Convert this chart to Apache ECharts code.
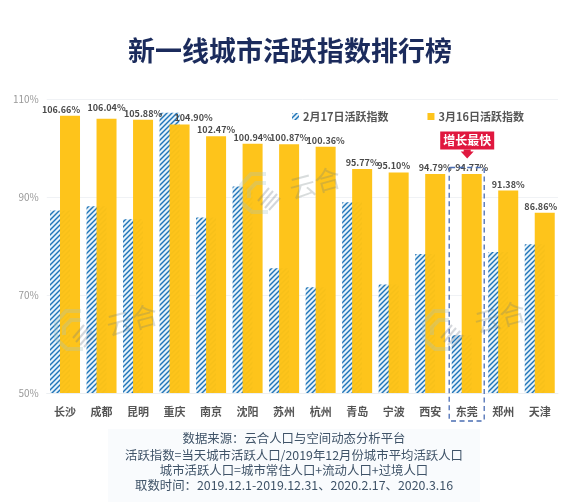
<!DOCTYPE html>
<html><head><meta charset="utf-8">
<style>html,body{margin:0;padding:0;background:#fff}#c{width:580px;height:502px}</style>
<script src="https://cdn.jsdelivr.net/npm/echarts@6/dist/echarts.min.js"></script>
</head><body><div id="c"></div>
<script>
const cities = ['长沙','成都','昆明','重庆','南京','沈阳','苏州','杭州','青岛','宁波','西安','东莞','郑州','天津'];
const feb17 = [87.3,88.2,85.5,107.3,85.9,92.2,75.5,71.6,89.0,72.2,78.4,61.8,78.8,80.4];
const mar16 = [106.66,106.04,105.88,104.90,102.47,100.94,100.87,100.36,95.77,95.10,94.79,94.77,91.38,86.86];
const yTicks = [50,70,90,110];
const seriesNames = ['2月17日活跃指数','3月16日活跃指数'];
const titleText = '新一线城市活跃指数排行榜';
const highlightCity = '东莞';
const highlightText = '增长最快';
const footerLines = ['数据来源：云合人口与空间动态分析平台','活跃指数=当天城市活跃人口/2019年12月份城市平均活跃人口','城市活跃人口=城市常住人口+流动人口+过境人口','取数时间：2019.12.1-2019.12.31、2020.2.17、2020.3.16'];
const labelNudgeX = [-9,0,0,14,0,0,0,0,0,-5,0,0,0,-4];
const labelNudgeY = [0,-5,0,0,0,0,0,0,0,0,0,0,0,0];

const FONT = '"Noto Sans CJK SC","Noto Sans",sans-serif';
function hatch(){
  const c=document.createElement('canvas');c.width=5;c.height=5;
  const g=c.getContext('2d');g.fillStyle='#e6f2fa';g.fillRect(0,0,5,5);
  g.strokeStyle='#1f74b8';g.lineWidth=1.45;
  [[-1,6,6,-1],[-1,1,1,-1],[4,6,6,4]].forEach(p=>{g.beginPath();g.moveTo(p[0],p[1]);g.lineTo(p[2],p[3]);g.stroke();});
  return c;
}
const pattern={image:hatch(),repeat:'repeat'};
const chart=echarts.init(document.getElementById('c'),null,{renderer:'canvas'});
chart.setOption({
  animation:false,backgroundColor:'#fff',
  title:{text:titleText,left:'center',top:32,textStyle:{fontFamily:FONT,fontSize:27,fontWeight:'bold',color:'#1b2b5c'}},
  legend:{left:287,top:106,itemWidth:7,itemHeight:7,itemGap:39,icon:'rect',data:seriesNames,
    textStyle:{fontFamily:FONT,fontSize:11,fontWeight:'bold',color:'#555',padding:[0,0,0,-1]}},
  grid:{left:46.75,right:22,top:99.5,bottom:109,containLabel:false},
  xAxis:{type:'category',data:cities,axisTick:{show:false},axisLine:{lineStyle:{color:'#eceff2'}},
    axisLabel:{interval:0,margin:13,fontFamily:FONT,fontSize:11,fontWeight:'bold',color:'#555'}},
  yAxis:{type:'value',min:50,max:110,interval:20,axisLine:{show:false},axisTick:{show:false},
    splitLine:{lineStyle:{color:'#f0f2f5'}},
    axisLabel:{margin:8,fontFamily:FONT,fontSize:10,color:'#999',
      formatter:v=>yTicks.includes(v)?v+'%':''}},
  series:[
    {name:seriesNames[0],type:'bar',data:feb17,barWidth:20,barGap:'-50%',itemStyle:{color:pattern}},
    {name:seriesNames[1],type:'bar',data:mar16.map((v,i)=>({value:v,label:{offset:[labelNudgeX[i],labelNudgeY[i]]}})),barWidth:20,
      itemStyle:{color:'#fec214',opacity:.97},
      label:{show:true,position:'top',distance:2,fontFamily:FONT,fontSize:9,fontWeight:'bold',color:'#444',
        formatter:p=>p.value.toFixed(2)+'%'}}
  ]
});
function watermark(lx,ly,tx,ty){
  const col='rgba(110,125,125,.27)';
  const ring='rgba(165,195,195,.30)';
  const stripes=[[-2,8,9,-5],[1,12,13,-2],[5,15,17,1],[9,17,20,5]].map(p=>(
    {type:'line',z:20,x:lx,y:ly,shape:{x1:p[0],y1:p[1],x2:p[2],y2:p[3]},style:{stroke:'rgba(110,120,135,.30)',lineWidth:2}}));
  return [
    {type:'text',z:20,x:tx,y:ty,rotation:Math.PI/12,style:{text:'云合',fontFamily:FONT,fontSize:26,fill:col,align:'center',verticalAlign:'middle'}},
    {type:'polyline',z:20,x:lx,y:ly,shape:{points:[[6,-19],[-9,-19],[-19,-8],[-19,9],[-8,19],[8,19]]},style:{stroke:ring,lineWidth:4,fill:null}},
    {type:'polyline',z:20,x:lx,y:ly,shape:{points:[[6,-10],[-4,-10],[-11,-3],[-11,5]]},style:{stroke:ring,lineWidth:4,fill:null}},
    ...stripes
  ];
}
const cx=chart.convertToPixel({xAxisIndex:0},highlightCity);
const yTop=chart.convertToPixel({yAxisIndex:0},110);
const yBase=chart.convertToPixel({yAxisIndex:0},50);
const footer=footerLines.map((t,i)=>({type:'text',x:294,y:[438,455,470,485][i],z:10,
  style:{text:t,fontFamily:FONT,fontSize:12.4,fill:'#3f5368',align:'center',verticalAlign:'middle'}}));
chart.setOption({graphic:[
  {type:'rect',z:0,silent:true,shape:{x:108,y:429,width:372,height:73},style:{fill:'#f9fbfd'}},
  ...footer,
  ...watermark(260,193,315,183),...watermark(75,330,132,320),...watermark(443,330,500,317),
  {type:'rect',z:30,shape:{x:cx-17.5,y:yTop+68,width:35,height:yBase+28-(yTop+68),r:1},style:{fill:null,stroke:'#4a6db3',lineWidth:1.3,lineDash:[5,3.5]}},
  {type:'rect',z:31,shape:{x:cx-26.5,y:yTop+32,width:54,height:18},style:{fill:'#e0183f'}},
  {type:'polygon',z:31,shape:{points:[[cx-3,yTop+50],[cx+4,yTop+50],[cx+4,yTop+52],[cx+7,yTop+52],[cx+.5,yTop+59],[cx-6,yTop+52],[cx-3,yTop+52]]},style:{fill:'#e0183f'}},
  {type:'text',z:32,x:cx+.5,y:yTop+41,style:{text:highlightText,fontFamily:FONT,fontSize:12,fontWeight:'bold',fill:'#fff',align:'center',verticalAlign:'middle'}}
]});
</script></body></html>
